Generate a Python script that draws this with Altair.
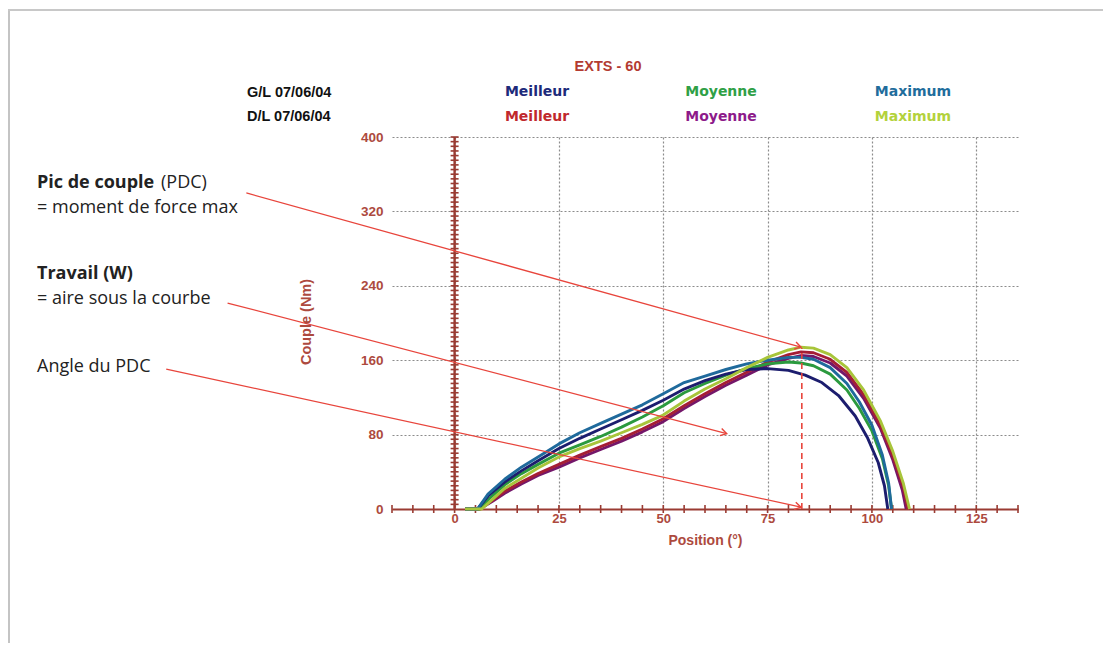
import math
import altair as alt
import pandas as pd

# ---------------- data ----------------
SERIES = ["G/L Meilleur", "G/L Moyenne", "G/L Maximum",
          "D/L Meilleur", "D/L Moyenne", "D/L Maximum"]
COLORS = ["#1c1d6e", "#2b9a3e", "#1f6a9c", "#a51e35", "#74176a", "#a8c53a"]
HEADER_COLORS = ["#1d2a7a", "#2fa046", "#1f6d9c", "#c0282d", "#8d1a8a", "#b3d23c"]

gl_best_pos = [2.5, 5.5, 8, 12, 16, 20, 25, 30, 35, 40, 45, 50, 55, 60, 65, 70, 75, 80, 84, 88, 92, 96, 99, 101.5, 103, 103.8]
gl_best_val = [0, 0, 14, 29, 41, 52, 65, 76, 86, 96, 106, 117, 129, 138, 145, 150, 151, 149, 144, 136, 122, 100, 76, 50, 25, 0]

gl_mean_pos = [2.5, 6, 8, 12, 16, 20, 25, 30, 35, 40, 45, 50, 55, 60, 65, 70, 75, 80, 83, 86, 90, 94, 97, 100, 102.5, 104, 104.7]
gl_mean_val = [0, 0, 10, 26, 38, 48, 60, 69, 78, 88, 99, 111, 125, 135, 144, 151, 156, 158, 157, 154, 145, 128, 108, 84, 54, 25, 0]

gl_max_pos = [2.5, 5.5, 8, 12, 16, 20, 25, 30, 35, 40, 45, 50, 55, 60, 65, 70, 75, 80, 83, 86, 90, 94, 97, 100, 102.5, 104, 104.7]
gl_max_val = [0, 0, 16, 32, 45, 56, 70, 82, 92, 102, 112, 124, 136, 143, 150, 156, 160, 163, 163, 161, 152, 135, 115, 90, 58, 28, 0]

dl_best_pos = [2.5, 6, 9, 12, 16, 20, 25, 30, 35, 40, 45, 50, 55, 60, 65, 70, 75, 80, 83, 86, 90, 94, 98, 102, 105, 107.5, 108.6]
dl_best_val = [0, 0, 9, 19, 29, 38, 48, 58, 67, 76, 86, 97, 111, 124, 136, 147, 158, 166, 169, 168, 161, 147, 123, 90, 57, 24, 0]

dl_mean_pos = [2.5, 6, 9, 12, 16, 20, 25, 30, 35, 40, 45, 50, 55, 60, 65, 70, 75, 80, 83, 86, 90, 94, 98, 102, 105, 107.3, 108.2]
dl_mean_val = [0, 0, 8, 17, 27, 36, 45, 55, 64, 73, 83, 94, 108, 121, 133, 144, 155, 162, 165, 164, 157, 143, 119, 87, 53, 20, 0]

dl_max_pos = [2.5, 6.5, 9, 12, 16, 20, 25, 30, 35, 40, 45, 50, 55, 60, 65, 70, 75, 80, 83, 86, 90, 94, 98, 102, 105, 107.5, 109]
dl_max_val = [0, 0, 10, 22, 33, 44, 56, 65, 73, 82, 91, 101, 116, 129, 140, 152, 163, 171, 174, 173, 166, 152, 128, 95, 62, 28, 0]

CURVES = {
    "G/L Meilleur": (gl_best_pos, gl_best_val),
    "G/L Moyenne": (gl_mean_pos, gl_mean_val),
    "G/L Maximum": (gl_max_pos, gl_max_val),
    "D/L Meilleur": (dl_best_pos, dl_best_val),
    "D/L Moyenne": (dl_mean_pos, dl_mean_val),
    "D/L Maximum": (dl_max_pos, dl_max_val),
}
DRAW_ORDER = ["D/L Moyenne", "D/L Meilleur", "G/L Moyenne", "G/L Meilleur", "G/L Maximum", "D/L Maximum"]

Y_TICKS = [0, 80, 160, 240, 320, 400]
X_TICKS = [0, 25, 50, 75, 100, 125]
X_DOMAIN = [-15, 135]
Y_DOMAIN = [0, 400]

PEAK_POS = 83.2
PEAK_VAL = 173

# annotation arrows (data units): start -> end
arrow_x0 = [-49.9, -54.4, -69.1]
arrow_y0 = [339.8, 221.5, 150.5]
arrow_x1 = [83.0, 65.2, 83.0]
arrow_y1 = [174.0, 81.0, 2.0]

# ---------------- layout ----------------
W, H = 626, 372
OX, OY = 392, 137          # plot origin on the page
SX = W / (X_DOMAIN[1] - X_DOMAIN[0])
SY = H / (Y_DOMAIN[1] - Y_DOMAIN[0])

AXIS_RED = "#9a3b32"
LABEL_RED = "#ad4a3e"
ARROW_RED = "#e8453c"
FONT_AX = "Liberation Sans"
FONT_NOTE = "Open Sans"
GRID = "#8c8c8c"

xs = alt.Scale(domain=X_DOMAIN, nice=False, zero=False)
ys = alt.Scale(domain=Y_DOMAIN, nice=False, zero=False)

X_AXIS = alt.Axis(
    values=X_TICKS, grid=True, gridDash=[2, 2], gridColor=GRID, gridWidth=1.2,
    domain=True, domainColor=AXIS_RED, domainWidth=2.2, ticks=False,
    labelFont=FONT_AX, labelFontWeight="bold", labelFontSize=13, labelColor=LABEL_RED,
    labelPadding=3, title="Position (°)", titleFont=FONT_AX, titleFontWeight="bold",
    titleFontSize=14, titleColor=LABEL_RED, titlePadding=8)
Y_AXIS = alt.Axis(
    values=Y_TICKS, grid=True, gridDash=[2, 2], gridColor=GRID, gridWidth=1.2,
    domain=False, ticks=False, labelFont=FONT_AX, labelFontWeight="bold",
    labelFontSize=13.5, labelColor=LABEL_RED, labelPadding=9, title=None)


def X(field):
    return alt.X(field, scale=xs, axis=X_AXIS, title="Position (°)")


def Y(field):
    return alt.Y(field, scale=ys, axis=Y_AXIS, title=None)


layers = []

# y axis line at x = 0
layers.append(
    alt.Chart(pd.DataFrame({"x": [0], "y": [Y_DOMAIN[0]], "y2": [Y_DOMAIN[1]]}))
    .mark_rule(color=AXIS_RED, strokeWidth=2.4)
    .encode(x=X("x:Q"), y=Y("y:Q"), y2="y2:Q")
)
# minor ticks on the y axis
ytick_vals = list(range(5, 401, 5))
layers.append(
    alt.Chart(pd.DataFrame({"x": [0] * len(ytick_vals), "y": ytick_vals}))
    .mark_tick(orient="horizontal", size=8, thickness=1.6, color=AXIS_RED, opacity=1)
    .encode(x=X("x:Q"), y=Y("y:Q"))
)
# minor ticks on the x axis
xtick_vals = list(range(-15, 136, 5))
layers.append(
    alt.Chart(pd.DataFrame({"x": xtick_vals, "y": [0] * len(xtick_vals)}))
    .mark_tick(orient="vertical", size=8, thickness=1.6, color=AXIS_RED, opacity=1)
    .encode(x=X("x:Q"), y=Y("y:Q"))
)

# curves
for name in DRAW_ORDER:
    pos, val = CURVES[name]
    df = pd.DataFrame({"pos": pos, "val": val, "i": range(len(pos))})
    col = COLORS[SERIES.index(name)]
    layers.append(
        alt.Chart(df).mark_line(color=col, strokeWidth=2.9, strokeJoin="round")
        .encode(x=X("pos:Q"), y=Y("val:Q"), order="i:Q")
    )

# dashed peak line
layers.append(
    alt.Chart(pd.DataFrame({"x": [PEAK_POS], "y": [0], "y2": [PEAK_VAL]}))
    .mark_rule(color=ARROW_RED, strokeWidth=1.6, strokeDash=[6, 4])
    .encode(x=X("x:Q"), y=Y("y:Q"), y2="y2:Q")
)

# arrows
arr = pd.DataFrame({"x0": arrow_x0, "y0": arrow_y0, "x1": arrow_x1, "y1": arrow_y1})
arr["ang"] = [
    math.degrees(math.atan2((a_y0 - a_y1) * SY, (a_x1 - a_x0) * SX)) % 360
    for a_x0, a_y0, a_x1, a_y1 in zip(arrow_x0, arrow_y0, arrow_x1, arrow_y1)
]
layers.append(
    alt.Chart(arr).mark_rule(color=ARROW_RED, strokeWidth=1.3)
    .encode(x=X("x0:Q"), y=Y("y0:Q"), x2="x1:Q", y2="y1:Q")
)
layers.append(
    alt.Chart(arr).mark_point(shape="M-1,-0.6L0,0L-1,0.6", filled=False, size=150,
                              strokeWidth=1.4, color=ARROW_RED, opacity=1)
    .encode(x=X("x1:Q"), y=Y("y1:Q"), angle=alt.Angle("ang:Q", scale=None))
)


def label(text, px, py, color="#000000", font=FONT_AX, size=13, weight="bold",
          align="center", angle=0):
    kw = dict(font=font, fontSize=size, fontWeight=weight, color=color, align=align,
              baseline="middle")
    if angle:
        kw["angle"] = angle
    return (alt.Chart(pd.DataFrame({"t": [text]})).mark_text(**kw)
            .encode(x=alt.value(px - OX), y=alt.value(py - OY), text="t:N"))


# header
layers.append(label("EXTS - 60", 608, 67, "#b33b31", size=14.5))
layers.append(label("G/L 07/06/04", 247, 93, "#111111", size=14.5, align="left"))
layers.append(label("D/L 07/06/04", 247, 117, "#111111", size=14.5, align="left"))
HEADER_X = {"Meilleur": 537, "Moyenne": 721, "Maximum": 913}
for name, hcol in zip(SERIES, HEADER_COLORS):
    side, kind = name.split(" ")
    py = 92 if side == "G/L" else 117
    layers.append(label(kind, HEADER_X[kind], py, hcol, font="DejaVu Sans", size=14))

# axis title (y)
layers.append(label("Couple (Nm)", 307, 322, LABEL_RED, size=14.5, angle=270))

# left annotations
NOTE = "#222222"
layers.append(label("Pic de couple", 37, 183, NOTE, font=FONT_NOTE, size=18, align="left"))
layers.append(label("(PDC)", 161, 183, NOTE, font=FONT_NOTE, size=18, weight="normal", align="left"))
layers.append(label("= moment de force max", 37, 208, NOTE, font=FONT_NOTE, size=18, weight="normal", align="left"))
layers.append(label("Travail (W)", 37, 274, NOTE, font=FONT_NOTE, size=18, align="left"))
layers.append(label("= aire sous la courbe", 37, 299, NOTE, font=FONT_NOTE, size=18, weight="normal", align="left"))
layers.append(label("Angle du PDC", 37, 367, NOTE, font=FONT_NOTE, size=18, weight="normal", align="left"))

# screenshot frame
layers.append(
    alt.Chart(pd.DataFrame({"a": [0]})).mark_rule(color="#c4c4c4", strokeWidth=2)
    .encode(x=alt.value(9 - OX), y=alt.value(10 - OY), y2=alt.value(651 - OY))
)
layers.append(
    alt.Chart(pd.DataFrame({"a": [0]})).mark_rule(color="#c8c8c8", strokeWidth=2)
    .encode(x=alt.value(8 - OX), x2=alt.value(1111 - OX), y=alt.value(10 - OY))
)

chart = alt.layer(*layers).properties(
    width=W, height=H,
    autosize=alt.AutoSizeParams(type="none"),
    padding={"left": OX - 8, "top": OY - 8, "right": 1095 - (OX - 8) - W, "bottom": 635 - (OY - 8) - H},
    background="white",
).configure_view(stroke=None)

chart.save("out.html", embed_options={"renderer": "svg", "actions": False})
